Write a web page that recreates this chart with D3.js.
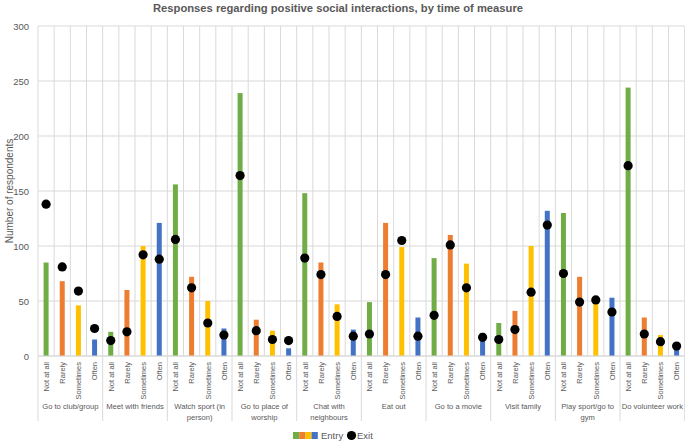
<!DOCTYPE html>
<html><head><meta charset="utf-8">
<script src="https://cdn.jsdelivr.net/npm/d3@7"></script>
<style>body{margin:0;background:#fff}svg{display:block;font-family:"Liberation Sans",Arial,sans-serif}</style>
</head><body><svg id="c" width="685" height="441"></svg>
<script>
const groups = [["Go to club/group"],["Meet with friends"],["Watch sport (in","person)"],["Go to place of","worship"],["Chat with","neighbours"],["Eat out"],["Go to a movie"],["Visit family"],["Play sport/go to","gym"],["Do volunteer work"]];
const categories = ["Not at all","Rarely","Sometimes","Often"];
const entryValues = [
  [85,68,46,15],[22,60,100,121],[156,72,50,25],[239,33,23,7],[148,85,47,24],
  [49,121,99,35],[89,110,84,21],[30,41,100,132],[130,72,50,53],[244,35,19,6]];
const exitValues = [
  [138,81,59,25],[14,22,92,88],[106,62,30,19],[164,23,15,14],[89,74,36,18],
  [20,74,105,18],[37,101,62,17],[15,24,58,119],[75,49,51,40],[173,20,13,9]];
const colors = ["#70ad47","#ed7d31","#ffc000","#4472c4"];
const yTicks = [0,50,100,150,200,250,300];

const svg = d3.select("#c");
const L = 38, R = 684.7, T = 26, B = 356;
const flat = [];
groups.forEach((g,gi)=>categories.forEach((c,ci)=>flat.push({g:gi,c:ci,key:gi+"-"+ci,entry:entryValues[gi][ci],exit:exitValues[gi][ci]})));
const x = d3.scaleBand().domain(flat.map(d=>d.key)).range([L,R]).padding(0);
const y = d3.scaleLinear().domain([0,300]).range([B,T]);
const grid = "#d9d9d9", txt = "#595959";

// horizontal grid
svg.append("g").selectAll("line").data(yTicks).join("line")
  .attr("x1",L).attr("x2",R).attr("y1",d=>y(d)).attr("y2",d=>y(d))
  .attr("stroke",grid).attr("stroke-width",1);
// vertical grid
const bounds = flat.map(d=>x(d.key)).concat([R]);
svg.append("g").selectAll("line").data(bounds).join("line")
  .attr("x1",d=>d).attr("x2",d=>d).attr("y1",T).attr("y2",B)
  .attr("stroke",grid).attr("stroke-width",1);
// group separators below axis
const gb = groups.map((g,gi)=>x(gi+"-0")).concat([R]);
svg.append("g").selectAll("line").data(gb).join("line")
  .attr("x1",d=>d).attr("x2",d=>d).attr("y1",B).attr("y2",421)
  .attr("stroke",grid).attr("stroke-width",1);

// y tick labels
svg.append("g").selectAll("text").data(yTicks).join("text")
  .attr("x",29).attr("y",d=>y(d)+3.5).attr("text-anchor","end")
  .attr("font-size",9.5).attr("fill",txt).text(d=>d);

// bars
const bw = 5;
svg.append("g").selectAll("rect").data(flat).join("rect")
  .attr("x",d=>x(d.key)+x.bandwidth()/2-bw/2).attr("width",bw)
  .attr("y",d=>y(d.entry)).attr("height",d=>B-y(d.entry))
  .attr("fill",d=>colors[d.c]);
// x axis line
svg.append("line").attr("x1",L).attr("x2",R).attr("y1",B).attr("y2",B).attr("stroke",grid);
// dots
svg.append("g").selectAll("circle").data(flat).join("circle")
  .attr("cx",d=>x(d.key)+x.bandwidth()/2).attr("cy",d=>y(d.exit)).attr("r",4.6).attr("fill","#000");

// category labels
svg.append("g").selectAll("text").data(flat).join("text")
  .attr("transform",d=>`translate(${x(d.key)+x.bandwidth()/2+2.8},362) rotate(-90)`)
  .attr("text-anchor","end").attr("font-size",7.5).attr("fill",txt).text(d=>categories[d.c]);
// group labels
const gl = svg.append("g");
groups.forEach((lines,gi)=>{
  const cx = (x(gi+"-0")+x(gi+"-3")+x.bandwidth())/2;
  lines.forEach((t,li)=>gl.append("text").attr("x",cx).attr("y",409+li*10.5)
    .attr("text-anchor","middle").attr("font-size",7.6).attr("fill",txt).text(t));
});

// y title
svg.append("text").attr("transform","translate(13,191) rotate(-90)").attr("text-anchor","middle")
  .attr("font-size",10).attr("fill",txt).text("Number of respondents");
// title
svg.append("text").attr("x",338).attr("y",11.5).attr("text-anchor","middle")
  .attr("font-size",11.5).attr("font-weight","bold").attr("fill",txt)
  .attr("textLength",370).attr("lengthAdjust","spacingAndGlyphs")
  .text("Responses regarding positive social interactions, by time of measure");

// legend
const lg = svg.append("g");
colors.forEach((c,i)=>lg.append("rect").attr("x",293+i*6.2).attr("y",432).attr("width",6.2).attr("height",7).attr("fill",c));
lg.append("text").attr("x",321).attr("y",439).attr("font-size",9.5).attr("fill",txt).text("Entry");
lg.append("circle").attr("cx",351.5).attr("cy",435.5).attr("r",4.6).attr("fill","#000");
lg.append("text").attr("x",357).attr("y",439).attr("font-size",9.5).attr("fill",txt).text("Exit");
</script></body></html>
